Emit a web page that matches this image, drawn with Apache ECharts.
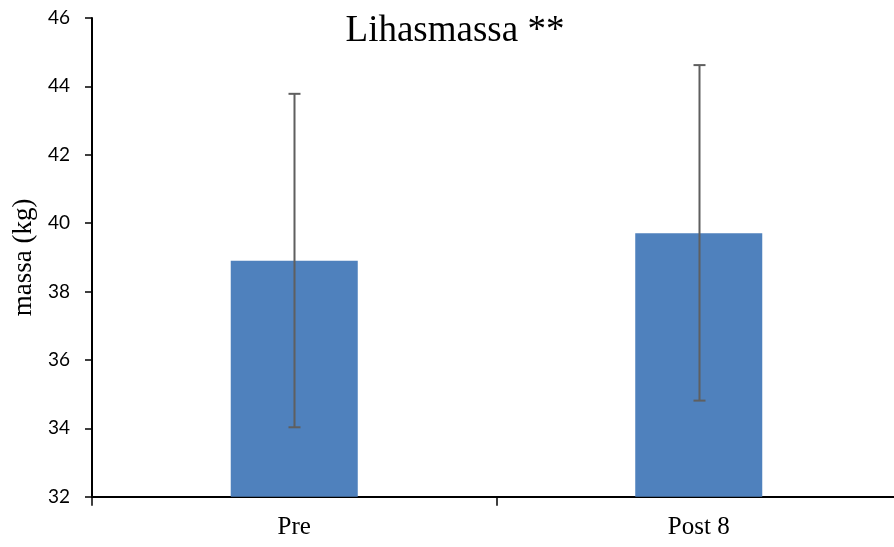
<!DOCTYPE html>
<html><head><meta charset="utf-8">
<script src="https://cdn.jsdelivr.net/npm/echarts@6/dist/echarts.min.js"></script>
<style>html,body{margin:0;padding:0;background:#fff;overflow:hidden}#c{width:894px;height:547px}</style>
</head><body><div id="c"></div>
<script>
var categories = ['Pre', 'Post 8'];
var means = [38.9, 39.7];
var errLow = [34.03, 34.81];
var errHigh = [43.78, 44.62];
var yTicks = [32, 34, 36, 38, 40, 42, 44, 46];

var chart = echarts.init(document.getElementById('c'));
var errData = categories.map(function (c, i) { return [i, errLow[i], errHigh[i]]; });
chart.setOption({
  animation: false,
  title: {
    text: 'Lihasmassa **', left: 450, top: 8, textAlign: 'center',
    textStyle: { fontFamily: 'Liberation Serif', fontSize: 37, fontWeight: 'normal', color: '#000' }
  },
  grid: { left: 92, top: 17.9, width: 809, height: 478.8, containLabel: false, outerBoundsMode: 'none' },
  xAxis: {
    type: 'category', data: categories,
    axisLine: { lineStyle: { color: '#000', width: 2 } },
    axisTick: { show: true, alignWithLabel: false, length: 9, lineStyle: { color: '#000', width: 1.5 } },
    axisLabel: { fontFamily: 'Liberation Serif', fontSize: 25, color: '#000', margin: 18 }
  },
  yAxis: {
    type: 'value', min: yTicks[0], max: yTicks[yTicks.length - 1], interval: 2,
    name: 'massa (kg)', nameLocation: 'middle', nameGap: 53,
    nameTextStyle: { fontFamily: 'Liberation Serif', fontSize: 27, color: '#000' },
    axisLine: { show: true, lineStyle: { color: '#000', width: 2 } },
    axisTick: { show: true, length: 7, lineStyle: { color: '#000', width: 1.5 } },
    axisLabel: { fontFamily: 'Lato', fontSize: 19, color: '#000', margin: 22 },
    splitLine: { show: false }
  },
  series: [
    {
      type: 'bar', data: means, barWidth: '31.4%',
      itemStyle: { color: '#4F81BD' }
    },
    {
      type: 'custom', data: errData, z: 10,
      renderItem: function (params, api) {
        var x = api.value(0);
        var lo = api.coord([x, api.value(1)]);
        var hi = api.coord([x, api.value(2)]);
        var cx = Math.round(lo[0]) + 0.5;
        var hw = 6;
        var st = { stroke: '#5f5f5f', lineWidth: 2 };
        return {
          type: 'group', children: [
            { type: 'line', shape: { x1: cx, y1: hi[1], x2: cx, y2: lo[1] }, style: st },
            { type: 'line', shape: { x1: cx - hw, y1: hi[1], x2: cx + hw, y2: hi[1] }, style: st },
            { type: 'line', shape: { x1: cx - hw, y1: lo[1], x2: cx + hw, y2: lo[1] }, style: st }
          ]
        };
      }
    }
  ]
});
</script></body></html>
